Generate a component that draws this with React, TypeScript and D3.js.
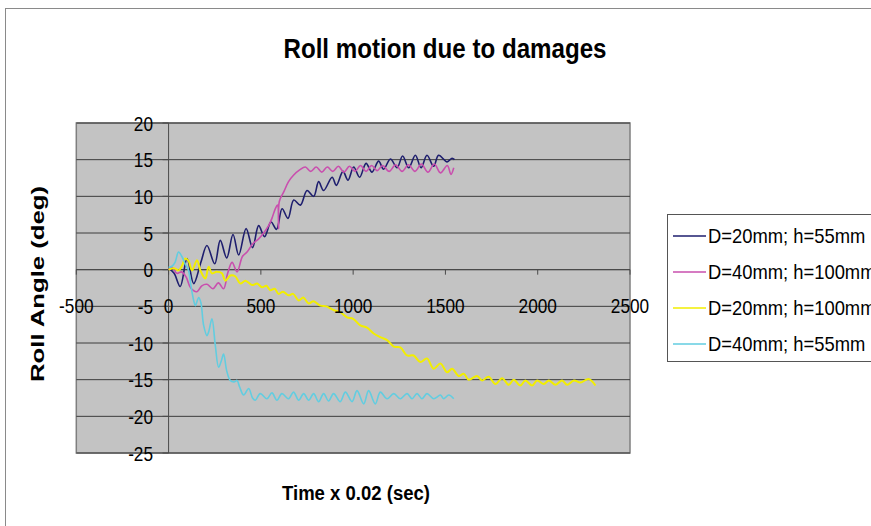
import React from "react";
import * as d3 from "d3";

const W = 871;
const H = 526;

const seriesNames = ["D=20mm; h=55mm", "D=40mm; h=100mm", "D=20mm; h=100mm", "D=40mm; h=55mm"];
const seriesColors = ["#1e1e6e", "#c94fae", "#f2ee00", "#62cde0"];

const xTicks = [-500, 0, 500, 1000, 1500, 2000, 2500];
const yTicks = [-25, -20, -15, -10, -5, 0, 5, 10, 15, 20];

// D=20mm; h=55mm (navy)
const navyX = [0, 30, 63, 100, 136, 175, 208, 250, 280, 315, 349, 380, 420, 455, 488, 520, 555, 585, 615, 647, 678, 714, 750, 786, 813, 840, 886, 909, 945, 972, 1003, 1035, 1070, 1102, 1138, 1165, 1202, 1238, 1268, 1301, 1337, 1368, 1400, 1436, 1463, 1509, 1536, 1549];
const navyY = [0.2, -0.5, -2.3, 1.5, -1.9, 1.0, 3.3, 0.8, 4.0, 1.6, 4.8, 2.0, 5.6, 3.0, 6.0, 4.5, 6.5, 5.5, 8.3, 7.0, 9.5, 8.8, 10.8, 10.0, 12.0, 10.8, 12.6, 11.5, 13.4, 12.2, 14.0, 12.6, 14.5, 13.3, 14.8, 13.7, 15.1, 13.9, 15.5, 13.9, 15.6, 13.9, 15.6, 14.1, 15.6, 14.7, 15.2, 15.0];

// D=40mm; h=100mm (magenta)
const magX = [0, 20, 45, 70, 95, 120, 154, 180, 208, 240, 270, 298, 320, 344, 371, 400, 425, 455, 488, 515, 542, 560, 578, 590, 596, 600, 624, 650, 678, 710, 741, 770, 800, 830, 860, 890, 920, 950, 980, 1010, 1040, 1070, 1100, 1130, 1160, 1195, 1230, 1265, 1300, 1335, 1370, 1405, 1440, 1473, 1510, 1530, 1545];
const magY = [0, 0.3, -0.5, -0.3, -1.0, -2.5, -3.0, -2.2, -2.0, -2.6, -1.8, -2.6, -0.5, 1.0, -0.3, 1.8, 2.4, 3.5, 4.2, 5.0, 6.0, 7.0, 8.3, 8.8, 5.6, 9.3, 10.6, 12.0, 12.9, 13.6, 14.0, 13.4, 14.0, 13.3, 14.0, 13.4, 14.1, 13.3, 14.1, 13.4, 14.2, 13.4, 14.2, 13.5, 14.2, 13.4, 14.3, 13.4, 14.3, 13.4, 14.4, 13.3, 14.4, 13.2, 14.2, 13.0, 13.9];

// D=20mm; h=100mm (yellow)
const yelX = [0, 30, 54, 72, 90, 108, 127, 154, 172, 199, 217, 235, 260, 289, 307, 335, 361, 389, 416, 452, 480, 506, 530, 551, 575, 596, 620, 650, 675, 705, 730, 759, 785, 822, 855, 894, 930, 967, 1000, 1039, 1075, 1111, 1147, 1184, 1220, 1256, 1292, 1328, 1364, 1400, 1436, 1473, 1509, 1536, 1572, 1599, 1626, 1671, 1699, 1734, 1771, 1807, 1843, 1870, 1906, 1933, 1970, 1997, 2033, 2060, 2096, 2132, 2159, 2196, 2231, 2276, 2313];
const yelY = [0, 0.2, -0.1, 0.5, 1.5, 1.2, -0.1, 1.3, -0.1, -1.2, 0.4, -0.5, -0.3, -0.5, -1.5, -0.8, -0.9, -1.9, -1.5, -2.1, -1.9, -2.4, -2.2, -2.8, -2.6, -3.3, -3.0, -3.5, -3.3, -4.2, -3.8, -4.6, -4.3, -4.9, -5.0, -5.5, -5.8, -6.5, -6.7, -7.6, -7.9, -8.7, -9.2, -9.6, -10.5, -10.6, -11.7, -11.7, -12.6, -12.1, -13.5, -12.8, -14.0, -13.5, -14.5, -14.2, -15.0, -14.5, -15.1, -14.6, -15.6, -14.8, -15.7, -15.0, -15.8, -15.1, -15.8, -15.1, -15.6, -15.1, -15.7, -15.1, -15.7, -15.1, -15.4, -14.9, -15.8];

// D=40mm; h=55mm (cyan)
const cyanX = [0, 20, 35, 54, 72, 90, 108, 120, 136, 145, 163, 175, 190, 208, 217, 235, 253, 271, 285, 298, 315, 334, 355, 371, 385, 407, 434, 455, 470, 497, 533, 560, 587, 614, 650, 677, 705, 732, 759, 786, 813, 840, 867, 894, 930, 958, 994, 1021, 1057, 1084, 1120, 1147, 1184, 1220, 1256, 1292, 1319, 1346, 1373, 1400, 1436, 1473, 1490, 1518, 1545];
const cyanY = [0.3, 0.5, 1.0, 2.4, 1.8, 0.8, -0.1, -2.0, -4.2, -4.9, -3.8, -4.5, -7.6, -9.0, -8.5, -6.7, -10.3, -13.3, -12.5, -11.5, -13.8, -15.1, -15.3, -15.1, -16.0, -17.1, -16.2, -17.5, -17.8, -16.9, -17.6, -16.8, -17.8, -16.9, -17.6, -16.7, -17.8, -16.9, -17.8, -16.9, -18.0, -16.9, -17.9, -16.9, -18.0, -16.7, -18.0, -16.5, -18.3, -16.5, -18.3, -16.7, -17.6, -16.9, -17.6, -16.9, -17.6, -16.9, -17.6, -16.9, -17.6, -17.1, -17.6, -17.1, -17.6];

const seriesX = [navyX, magX, yelX, cyanX];
const seriesY = [navyY, magY, yelY, cyanY];
const seriesWidth = [1.6, 1.6, 2, 1.6];

const FONT = "'Liberation Sans', Arial, sans-serif";

export default function App() {
  const plotL = 76.3, plotR = 630, plotT = 123, plotB = 453;
  const x = d3.scaleLinear().domain([-500, 2500]).range([plotL, plotR]);
  const y = d3.scaleLinear().domain([-25, 20]).range([plotB, plotT]);
  const line = d3
    .line<[number, number]>()
    .x((d) => x(d[0]))
    .y((d) => y(d[1]))
    .curve(d3.curveCatmullRom.alpha(0.5));

  const x0 = x(0);
  const y0 = y(0);

  return (
    <svg
      width={W}
      height={H}
      style={{ position: "absolute", left: 0, top: 0, background: "#fff" }}
      fontFamily={FONT}
    >
      <rect x={0} y={0} width={W} height={H} fill="#fff" />
      {/* outer chart border */}
      <rect x={5.5} y={8.5} width={W + 20} height={H + 20} fill="none" stroke="#8a8a8a" strokeWidth={1} />

      {/* title */}
      <text x={445} y={58} textAnchor="middle" fontSize={28} fontWeight="bold" textLength={323} lengthAdjust="spacingAndGlyphs">
        Roll motion due to damages
      </text>

      {/* plot area */}
      <rect x={plotL} y={plotT} width={plotR - plotL} height={plotB - plotT} fill="#c3c3c3" stroke="#7f7f7f" strokeWidth={1.5} />

      {/* gridlines */}
      {yTicks.map((t) => (
        <line key={"g" + t} x1={plotL} x2={plotR} y1={y(t)} y2={y(t)} stroke="#3c3c3c" strokeWidth={1} />
      ))}

      {/* axes */}
      <line x1={x0} x2={x0} y1={plotT} y2={plotB} stroke="#4a4a4a" strokeWidth={1} />
      <line x1={plotL} x2={plotR} y1={y0} y2={y0} stroke="#4a4a4a" strokeWidth={1} />
      {xTicks.map((t) => (
        <line key={"xt" + t} x1={x(t)} x2={x(t)} y1={y0} y2={y0 + 5} stroke="#4a4a4a" strokeWidth={1} />
      ))}
      {yTicks.map((t) => (
        <line key={"yt" + t} x1={x0 - 6} x2={x0} y1={y(t)} y2={y(t)} stroke="#4a4a4a" strokeWidth={1} />
      ))}

      {/* series */}
      {seriesX.map((xs, i) => {
        const pts: [number, number][] = xs.map((v, j) => [v, seriesY[i][j]]);
        return (
          <path
            key={"s" + i}
            d={line(pts) || ""}
            fill="none"
            stroke={seriesColors[i]}
            strokeWidth={seriesWidth[i]}
            strokeLinejoin="round"
          />
        );
      })}

      {/* x tick labels */}
      {xTicks.map((t) => (
        <text
          key={"xl" + t}
          transform={`translate(${x(t)},${312.5}) scale(0.82,1)`}
          textAnchor="middle"
          fontSize={21}
          fill="#000"
        >
          {t}
        </text>
      ))}

      {/* y tick labels */}
      {yTicks.map((t) => (
        <text
          key={"yl" + t}
          transform={`translate(${153},${y(t) + 7.5}) scale(0.82,1)`}
          textAnchor="end"
          fontSize={21}
          fill="#000"
        >
          {t}
        </text>
      ))}

      {/* axis titles */}
      <text
        transform={`translate(44,${284}) rotate(-90)`}
        textAnchor="middle"
        fontSize={19}
        fontWeight="bold"
        textLength={196}
        lengthAdjust="spacingAndGlyphs"
      >
        Roll Angle (deg)
      </text>
      <text x={356} y={500} textAnchor="middle" fontSize={20} fontWeight="bold" textLength={148} lengthAdjust="spacingAndGlyphs">
        Time x 0.02 (sec)
      </text>

      {/* legend */}
      <rect x={667.5} y={214.5} width={260} height={147} fill="#fff" stroke="#555" strokeWidth={1} />
      {seriesNames.map((n, i) => {
        const cy = 236 + i * 36;
        return (
          <g key={"lg" + i}>
            <line x1={673} x2={706} y1={cy} y2={cy} stroke={seriesColors[i]} strokeWidth={1.6} />
            <text transform={`translate(708,${cy + 7}) scale(0.92,1)`} fontSize={20} fill="#000">
              {n}
            </text>
          </g>
        );
      })}
    </svg>
  );
}
